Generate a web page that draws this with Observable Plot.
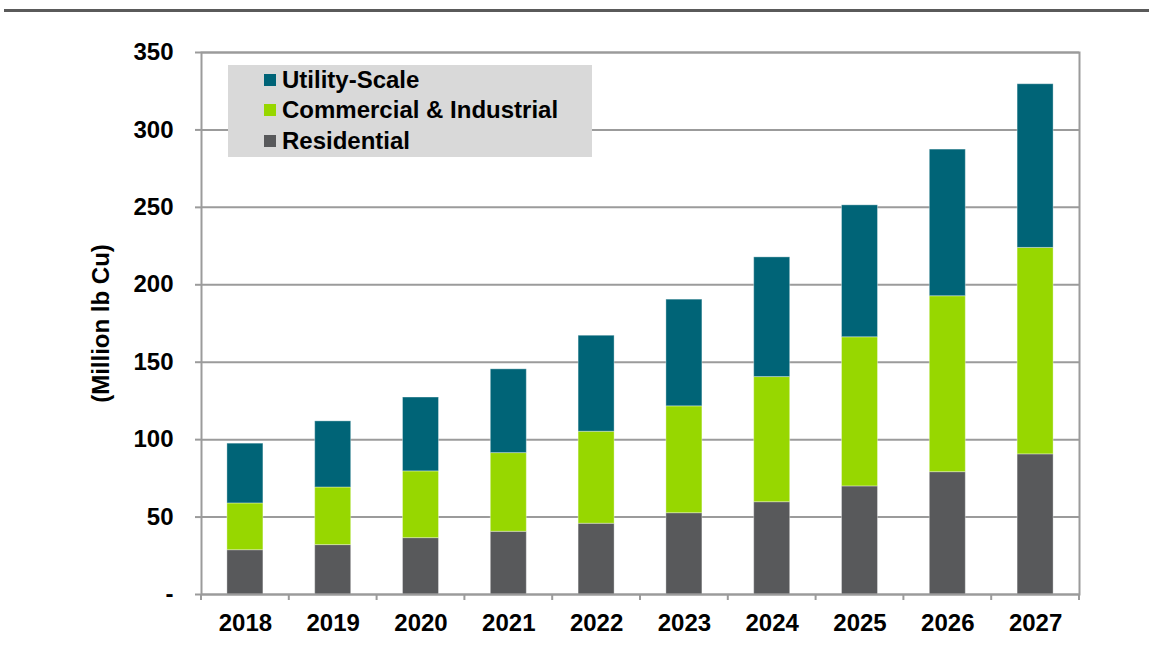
<!DOCTYPE html>
<html><head><meta charset="utf-8">
<script src="https://cdn.jsdelivr.net/npm/d3@7"></script>
<script src="https://cdn.jsdelivr.net/npm/@observablehq/plot@0.6"></script>
<style>
body{margin:0;background:#fff;font-family:"Liberation Sans",Arial,sans-serif;}
#wrap{position:relative;width:1149px;height:650px;overflow:hidden;}
#chart{position:absolute;left:0;top:0;}
#topline{position:absolute;left:4px;right:0;top:9px;height:3px;background:#5a5a5a;}
#legend{position:absolute;left:228px;top:65px;width:364px;height:92px;background:#d9d9d9;}
.item{position:absolute;left:36px;height:28px;line-height:28px;font-weight:bold;font-size:24px;color:#000;display:flex;align-items:center;white-space:nowrap;}
.sw{width:12px;height:12px;margin-right:6px;flex:none;}
</style></head>
<body><div id="wrap"><div id="chart"></div><div id="topline"></div><div id="legend"></div></div>
<script>
const years = ["2018","2019","2020","2021","2022","2023","2024","2025","2026","2027"];
const residential = [28.6, 31.9, 36.4, 40.5, 45.7, 52.5, 59.6, 69.8, 79.0, 90.5];
const commercial = [30.2, 37.2, 43.1, 50.8, 59.4, 69.0, 80.8, 96.3, 113.6, 133.3];
const utility = [38.6, 42.7, 47.7, 54.1, 62.0, 68.9, 77.3, 85.2, 94.7, 105.7];
const seriesNames = ["Residential", "Commercial & Industrial", "Utility-Scale"];
const seriesColors = ["#58595b", "#97d700", "#006477"];
const legendOrder = ["Utility-Scale", "Commercial & Industrial", "Residential"];
const yTicks = [0, 50, 100, 150, 200, 250, 300, 350];
const yTitle = "(Million lb Cu)";

const seriesValues = [residential, commercial, utility];
const data = years.flatMap((yr, i) => seriesNames.map((s, k) => ({year: yr, series: s, value: seriesValues[k][i]})));

function boundaryTicks(index, scales, values, dims) {
  const x = scales.x;
  const bw = typeof x.bandwidth === "function" ? x.bandwidth() : x.bandwidth;
  const step = x(years[1]) - x(years[0]);
  const start = x(years[0]) - (step - bw) / 2;
  const y0 = dims.height - dims.marginBottom;
  const g = d3.create("svg:g");
  for (let i = 0; i <= years.length; i++) {
    const px = start + i * step;
    g.append("line").attr("x1", px).attr("x2", px).attr("y1", y0).attr("y2", y0 + 6)
      .attr("stroke", "#9b9b9b").attr("stroke-width", 2);
  }
  return g.node();
}

const chart = Plot.plot({
  width: 1149, height: 650,
  marginLeft: 201, marginRight: 70, marginTop: 52, marginBottom: 56,
  style: {fontFamily: '"Liberation Sans", Arial, sans-serif', fontSize: "24px", fontWeight: "bold", color: "#000", background: "transparent"},
  x: {domain: years, paddingInner: 0.59, paddingOuter: 0.295, round: false},
  y: {domain: [0, 350]},
  color: {domain: seriesNames, range: seriesColors},
  marks: [
    Plot.gridY(yTicks, {stroke: "#9b9b9b", strokeOpacity: 1, strokeWidth: 2}),
    Plot.barY(data, {x: "year", y: "value", fill: "series", order: seriesNames, stroke: "#ffffff", strokeOpacity: 0.35, strokeWidth: 1}),
    Plot.frame({stroke: "#9b9b9b", strokeWidth: 2}),
    Plot.axisY(yTicks, {tickSize: 6, tickPadding: 22, stroke: "#9b9b9b", strokeWidth: 2, tickFormat: d => d === 0 ? "-" : String(d), label: yTitle, labelAnchor: "center", labelArrow: "none", labelOffset: 110}),
    Plot.axisX({tickSize: 0, tickPadding: 19, label: null}),
    boundaryTicks
  ]
});
document.getElementById("chart").appendChild(chart);

const legend = document.getElementById("legend");
const centers = [15, 45, 76];
legendOrder.forEach((name, i) => {
  const it = document.createElement("div");
  it.className = "item";
  it.style.top = (centers[i] - 14) + "px";
  const sw = document.createElement("span");
  sw.className = "sw";
  sw.style.background = seriesColors[seriesNames.indexOf(name)];
  const tx = document.createElement("span");
  tx.textContent = name;
  it.appendChild(sw); it.appendChild(tx);
  legend.appendChild(it);
});
</script>
</body></html>
